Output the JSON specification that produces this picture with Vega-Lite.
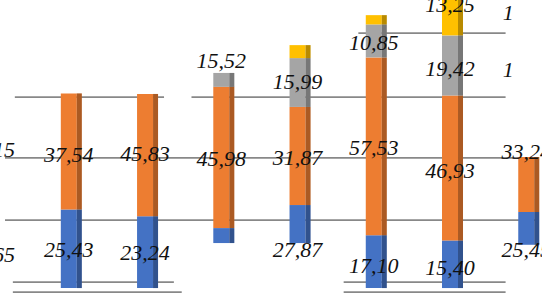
{
  "$schema": "https://vega.github.io/schema/vega-lite/v6.json",
  "width": 542,
  "height": 293,
  "padding": 0,
  "autosize": {"type": "fit", "contains": "padding"},
  "background": "white",
  "config": {"view": {"stroke": null}},
  "datasets": {
    "grid": [
      {"x0": -0.708, "x1": 1.249, "g": 61.8},
      {"x0": 1.609, "x1": 5.729, "g": 61.8},
      {"x0": -0.837, "x1": 6.141, "g": 42.1},
      {"x0": -0.837, "x1": 6.141, "g": 22.0},
      {"x0": 3.798, "x1": 5.729, "g": 82.5},
      {"x0": -0.734, "x1": 1.378, "g": 1.94},
      {"x0": 3.605, "x1": 5.729, "g": 1.94},
      {"x0": -0.734, "x1": 1.481, "g": -1.29},
      {"x0": 3.605, "x1": 5.729, "g": -1.29}
    ],
    "segs": [
      {"bar": 0, "s": "A", "y0": 0, "y1": 25.43},
      {"bar": 0, "s": "B", "y0": 25.43, "y1": 62.97},
      {"bar": 1, "s": "A", "y0": 0, "y1": 23.24},
      {"bar": 1, "s": "B", "y0": 23.24, "y1": 62.8},
      {"bar": 2, "s": "A", "y0": 14.56, "y1": 19.4},
      {"bar": 2, "s": "B", "y0": 19.4, "y1": 65.1},
      {"bar": 2, "s": "C", "y0": 65.1, "y1": 69.6},
      {"bar": 3, "s": "A", "y0": 14.56, "y1": 26.86},
      {"bar": 3, "s": "B", "y0": 26.86, "y1": 58.6},
      {"bar": 3, "s": "C", "y0": 58.6, "y1": 74.4},
      {"bar": 3, "s": "D", "y0": 74.4, "y1": 78.6},
      {"bar": 4, "s": "A", "y0": 0, "y1": 17.1},
      {"bar": 4, "s": "B", "y0": 17.1, "y1": 74.63},
      {"bar": 4, "s": "C", "y0": 74.63, "y1": 85.3},
      {"bar": 4, "s": "D", "y0": 85.3, "y1": 88.3},
      {"bar": 5, "s": "A", "y0": 0, "y1": 15.4},
      {"bar": 5, "s": "B", "y0": 15.4, "y1": 62.33},
      {"bar": 5, "s": "C", "y0": 62.33, "y1": 81.75},
      {"bar": 5, "s": "D", "y0": 81.75, "y1": 95},
      {"bar": 6, "s": "A", "y0": 14, "y1": 24.6},
      {"bar": 6, "s": "B", "y0": 24.6, "y1": 42.4}
    ],
    "labels": [
      {"bar": -1.03, "v": 44.7, "t": "38,15"},
      {"bar": -1.03, "v": 10.7, "t": "21,65"},
      {"bar": 0, "v": 12.3, "t": "25,43"},
      {"bar": 0, "v": 43.0, "t": "37,54"},
      {"bar": 1, "v": 11.3, "t": "23,24"},
      {"bar": 1, "v": 43.4, "t": "45,83"},
      {"bar": 2, "v": 41.7, "t": "45,98"},
      {"bar": 2, "v": 73.5, "t": "15,52"},
      {"bar": 3, "v": 12.3, "t": "27,87"},
      {"bar": 3, "v": 42.1, "t": "31,87"},
      {"bar": 3, "v": 66.7, "t": "15,99"},
      {"bar": 4, "v": 7.2, "t": "17,10"},
      {"bar": 4, "v": 45.3, "t": "57,53"},
      {"bar": 4, "v": 79.3, "t": "10,85"},
      {"bar": 5, "v": 6.5, "t": "15,40"},
      {"bar": 5, "v": 37.9, "t": "46,93"},
      {"bar": 5, "v": 70.9, "t": "19,42"},
      {"bar": 5, "v": 91.5, "t": "13,25"},
      {"bar": 6, "v": 12.3, "t": "25,45"},
      {"bar": 6, "v": 44.0, "t": "33,24"}
    ],
    "frags": [
      {"bar": 5.692, "v": 89.0, "t": "1"},
      {"bar": 5.692, "v": 70.6, "t": "1"}
    ]
  },
  "layer": [
    {
      "data": {"name": "grid"},
      "mark": {"type": "rule", "color": "#888888", "strokeWidth": 1.7, "clip": true},
      "encoding": {
        "x": {"field": "x0", "type": "quantitative", "scale": {"domain": [-0.837, 6.141], "nice": false, "zero": false}, "axis": null},
        "x2": {"field": "x1"},
        "y": {"field": "g", "type": "quantitative", "scale": {"domain": [-1.6, 93.2], "nice": false, "zero": false}, "axis": null}
      }
    },
    {
      "data": {"name": "segs"},
      "mark": {"type": "bar", "width": 16, "clip": true},
      "encoding": {
        "x": {"field": "bar", "type": "quantitative", "scale": {"domain": [-0.837, 6.141], "nice": false, "zero": false}, "axis": null},
        "y": {"field": "y0", "type": "quantitative", "scale": {"domain": [-1.6, 93.2], "nice": false, "zero": false}, "axis": null},
        "y2": {"field": "y1"},
        "color": {"field": "s", "type": "nominal", "scale": {"domain": ["A", "B", "C", "D"], "range": ["#4472C4", "#ED7D31", "#A5A5A5", "#FFC000"]}, "legend": null}
      }
    },
    {
      "data": {"name": "segs"},
      "mark": {"type": "bar", "width": 5, "xOffset": 10.5, "clip": true},
      "encoding": {
        "x": {"field": "bar", "type": "quantitative", "scale": {"domain": [-0.837, 6.141], "nice": false, "zero": false}, "axis": null},
        "y": {"field": "y0", "type": "quantitative", "scale": {"domain": [-1.6, 93.2], "nice": false, "zero": false}, "axis": null},
        "y2": {"field": "y1"},
        "color": {"field": "s", "type": "nominal", "legend": null}
      }
    },
    {
      "data": {"name": "segs"},
      "mark": {"type": "bar", "width": 5, "xOffset": 10.5, "color": "#000000", "opacity": 0.28, "clip": true},
      "encoding": {
        "x": {"field": "bar", "type": "quantitative", "scale": {"domain": [-0.837, 6.141], "nice": false, "zero": false}, "axis": null},
        "y": {"field": "y0", "type": "quantitative", "scale": {"domain": [-1.6, 93.2], "nice": false, "zero": false}, "axis": null},
        "y2": {"field": "y1"}
      }
    },
    {
      "data": {"name": "labels"},
      "mark": {"type": "text", "font": "Liberation Serif", "fontStyle": "italic", "fontSize": 22, "color": "#111111", "align": "center", "baseline": "middle", "clip": true},
      "encoding": {
        "x": {"field": "bar", "type": "quantitative", "scale": {"domain": [-0.837, 6.141], "nice": false, "zero": false}, "axis": null},
        "y": {"field": "v", "type": "quantitative", "scale": {"domain": [-1.6, 93.2], "nice": false, "zero": false}, "axis": null},
        "text": {"field": "t", "type": "nominal"}
      }
    },
    {
      "data": {"name": "frags"},
      "mark": {"type": "text", "font": "Liberation Serif", "fontStyle": "italic", "fontSize": 22, "color": "#111111", "align": "left", "baseline": "middle", "clip": true},
      "encoding": {
        "x": {"field": "bar", "type": "quantitative", "scale": {"domain": [-0.837, 6.141], "nice": false, "zero": false}, "axis": null},
        "y": {"field": "v", "type": "quantitative", "scale": {"domain": [-1.6, 93.2], "nice": false, "zero": false}, "axis": null},
        "text": {"field": "t", "type": "nominal"}
      }
    }
  ]
}
